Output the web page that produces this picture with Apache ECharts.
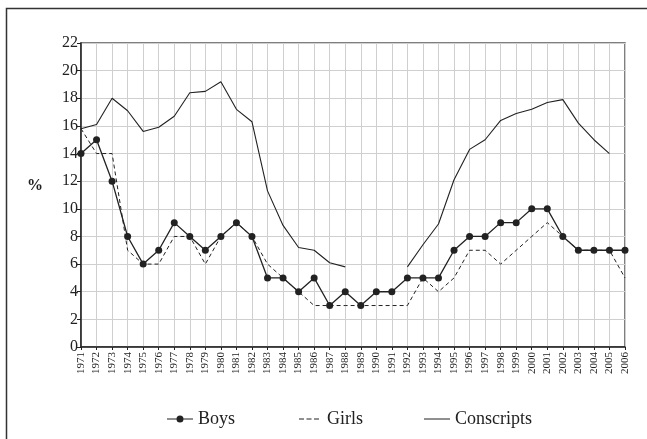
<!DOCTYPE html>
<html>
<head>
<meta charset="utf-8">
<script src="https://cdn.jsdelivr.net/npm/echarts@6/dist/echarts.min.js"></script>
<style>html,body{margin:0;padding:0;background:#fff}#c{width:647px;height:439px}</style>
</head>
<body>
<div id="c"></div>
<script>
var years = ['1971','1972','1973','1974','1975','1976','1977','1978','1979','1980','1981','1982','1983','1984','1985','1986','1987','1988','1989','1990','1991','1992','1993','1994','1995','1996','1997','1998','1999','2000','2001','2002','2003','2004','2005','2006'];
var boys = [14,15,12,8,6,7,9,8,7,8,9,8,5,5,4,5,3,4,3,4,4,5,5,5,7,8,8,9,9,10,10,8,7,7,7,7];
var girls = [15.8,14,14,7,6,6,8,8,6,8,9,8,6,5,4,3,3,3,3,3,3,3,5,4,5,7,7,6,7,8,9,8,7,7,7,5];
var conscripts = [15.8,16.1,18.0,17.1,15.6,15.9,16.7,18.4,18.5,19.2,17.2,16.3,11.3,8.8,7.2,7.0,6.1,5.8,'-','-','-',5.8,7.4,8.9,12.1,14.3,15.0,16.4,16.9,17.2,17.7,17.9,16.2,15.0,14.0,'-'];
var yTicks = {min:0, max:22, step:2};

var font = 'Liberation Serif';
var B = 'M0,0L0,0Z M26,8L26,8Z ';
var iconBoys = 'path://' + B + 'M0,3.4H26V4.6H0Z M16.5,4A3.5,3.5,0,1,1,9.5,4A3.5,3.5,0,1,1,16.5,4Z';
var iconGirls = 'path://' + B + 'M3,3.5H8V4.5H3Z M10.5,3.5H15.5V4.5H10.5Z M18,3.5H23V4.5H18Z';
var iconCons = 'path://' + B + 'M0,3.5H26V4.5H0Z';

var chart = echarts.init(document.getElementById('c'), null, {renderer:'canvas'});
chart.setOption({
  animation:false,
  backgroundColor:'#fff',
  textStyle:{fontFamily:font},
  graphic:[
    {type:'rect', shape:{x:6.5,y:8.5,width:700,height:500}, style:{fill:'none',stroke:'#333',lineWidth:1.5}, silent:true},
    {type:'text', left:27, top:178, style:{text:'%', font:'bold 16px "Liberation Serif"', fill:'#222'}}
  ],
  grid:{left:81, right:22, top:43, bottom:92, show:true, borderColor:'#555', borderWidth:1.5},
  legend:{
    bottom:6, left:162, itemGap:61, itemWidth:26, itemHeight:8,
    textStyle:{fontFamily:font, fontSize:18, color:'#222', padding:[0,0,0,0]},
    data:[{name:'Boys', icon:iconBoys},{name:'Girls', icon:iconGirls},{name:'Conscripts', icon:iconCons}]
  },
  xAxis:{
    type:'category', data:years, boundaryGap:false,
    axisLine:{lineStyle:{color:'#222', width:1.5}},
    axisTick:{show:true, inside:false, length:3, interval:0, lineStyle:{color:'#222'}},
    axisLabel:{rotate:90, interval:0, fontSize:11, color:'#222', margin:5, fontFamily:font},
    splitLine:{show:true, interval:0, lineStyle:{color:'#cfcfcf', width:1}}
  },
  yAxis:{
    type:'value', min:yTicks.min, max:yTicks.max, interval:yTicks.step,
    axisLine:{show:true, lineStyle:{color:'#222', width:1.5}},
    axisTick:{show:true, length:4, lineStyle:{color:'#222'}},
    axisLabel:{fontSize:16, color:'#222', margin:3, fontFamily:font},
    splitLine:{show:true, lineStyle:{color:'#cfcfcf', width:1}}
  },
  series:[
    {name:'Boys', type:'line', data:boys, symbol:'circle', symbolSize:7,
     lineStyle:{color:'#222', width:1.3}, itemStyle:{color:'#222'}, z:4},
    {name:'Girls', type:'line', data:girls, symbol:'none', showSymbol:false,
     lineStyle:{color:'#222', width:1, type:[4,3]}, itemStyle:{color:'#222'}, z:3},
    {name:'Conscripts', type:'line', data:conscripts, symbol:'none', showSymbol:false, connectNulls:false,
     lineStyle:{color:'#222', width:1.1}, itemStyle:{color:'#222'}, z:3}
  ]
});
</script>
</body>
</html>
